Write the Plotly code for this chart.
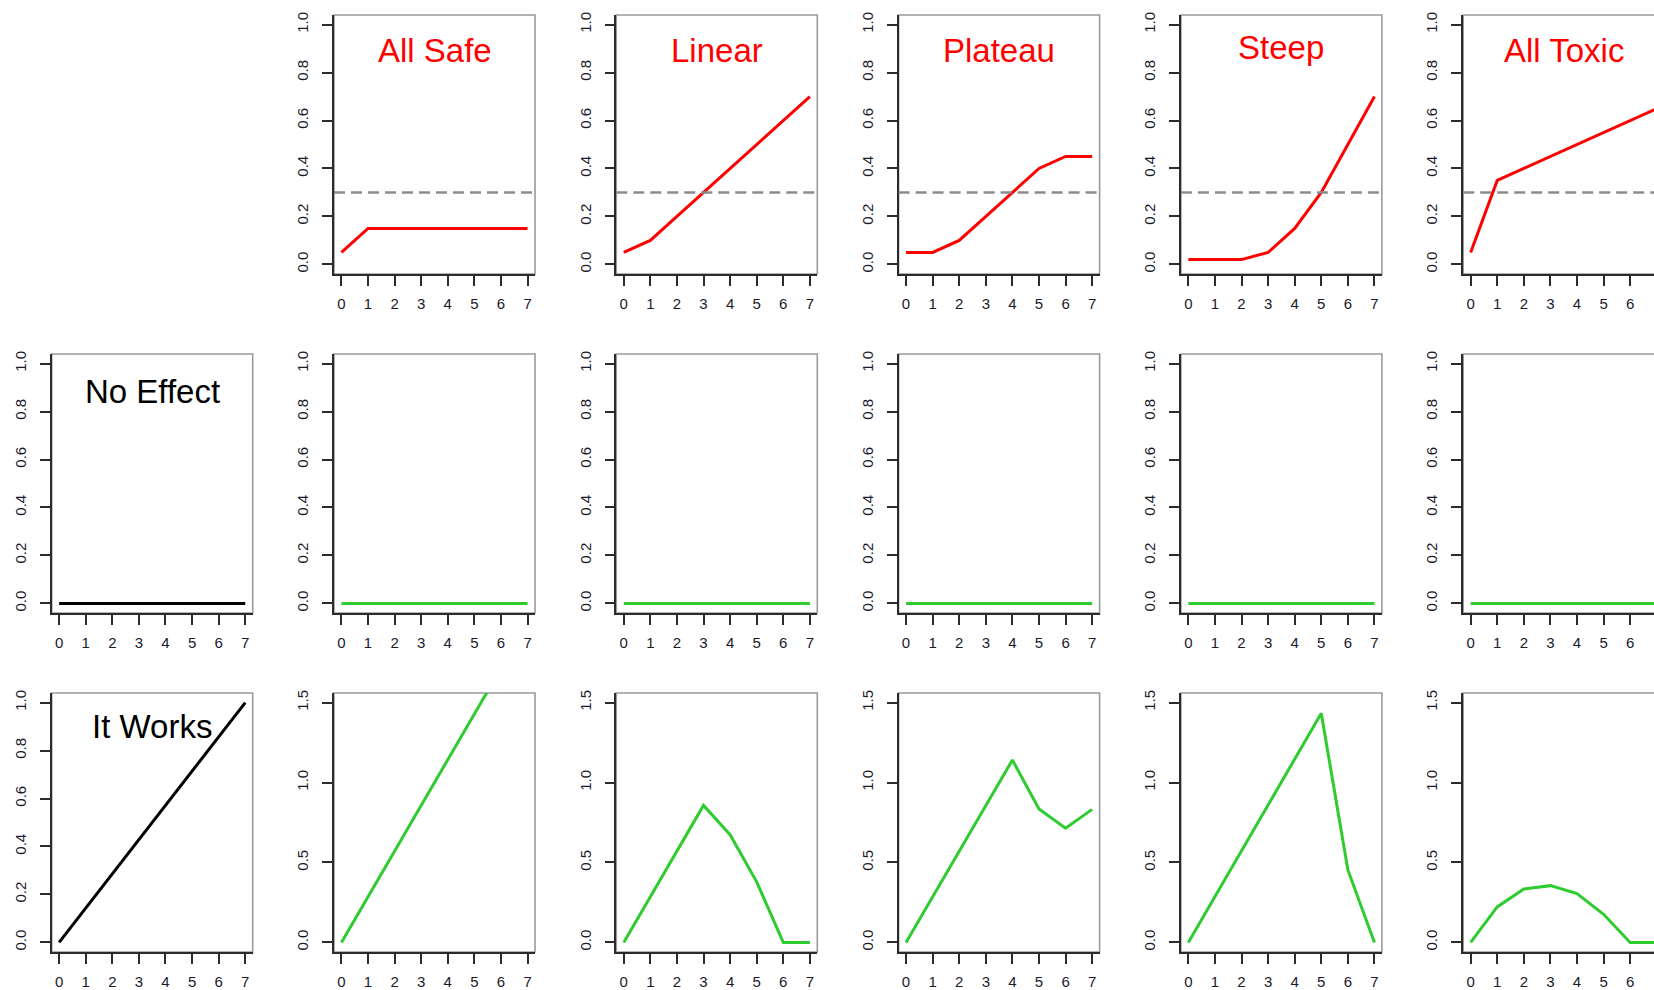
import plotly.graph_objects as go

# ---- data -------------------------------------------------------------
doses = [0, 1, 2, 3, 4, 5, 6, 7]

scenario_names = ["All Safe", "Linear", "Plateau", "Steep", "All Toxic"]

# toxicity curves (top row)
tox_all_safe = [0.05, 0.15, 0.15, 0.15, 0.15, 0.15, 0.15, 0.15]
tox_linear = [0.05, 0.10, 0.20, 0.30, 0.40, 0.50, 0.60, 0.70]
tox_plateau = [0.05, 0.05, 0.10, 0.20, 0.30, 0.40, 0.45, 0.45]
tox_steep = [0.02, 0.02, 0.02, 0.05, 0.15, 0.30, 0.50, 0.70]
tox_all_toxic = [0.05, 0.35, 0.40, 0.45, 0.50, 0.55, 0.60, 0.65]
toxicity_limit = 0.3

# efficacy curves (left column)
eff_no_effect = [0, 0, 0, 0, 0, 0, 0, 0]
eff_it_works = [0, 0.143, 0.286, 0.429, 0.571, 0.714, 0.857, 1.0]

# utility for each toxicity scenario under "No Effect"
util_no_effect = {
    "All Safe": [0, 0, 0, 0, 0, 0, 0, 0],
    "Linear": [0, 0, 0, 0, 0, 0, 0, 0],
    "Plateau": [0, 0, 0, 0, 0, 0, 0, 0],
    "Steep": [0, 0, 0, 0, 0, 0, 0, 0],
    "All Toxic": [0, 0, 0, 0, 0, 0, 0, 0],
}
# utility for each toxicity scenario under "It Works"
util_it_works = {
    "All Safe": [0, 0.286, 0.571, 0.857, 1.143, 1.429, 1.714, 2.0],
    "Linear": [0, 0.286, 0.571, 0.857, 0.674, 0.379, 0, 0],
    "Plateau": [0, 0.286, 0.571, 0.857, 1.141, 0.835, 0.714, 0.832],
    "Steep": [0, 0.286, 0.571, 0.857, 1.143, 1.433, 0.453, 0],
    "All Toxic": [0, 0.222, 0.334, 0.355, 0.306, 0.176, 0, 0],
}

tox_curves = [tox_all_safe, tox_linear, tox_plateau, tox_steep, tox_all_toxic]

# ---- layout geometry (pixels) -----------------------------------------
W, H = 1654, 990
COL_LEFT0, COL_PITCH, BOX_W = 51.7, 282.3, 201
ROW_TOPS = [15, 354, 693]
BOX_H = 259

FONT = "Liberation Sans, Arial, Helvetica, sans-serif"
RED = "#ff0000"
GREEN = "#2fcc2f"
BLACK = "#000000"

fig = go.Figure()
layout = {}
shapes = []
annotations = []
panel_no = [0]


def add_panel(row, col, y, color, ylim, yticks, title=None, title_color=None,
              title_y=None, hline=None):
    panel_no[0] += 1
    n = panel_no[0]
    sx = "" if n == 1 else str(n)
    left = COL_LEFT0 + COL_PITCH * col
    right = left + BOX_W
    top = ROW_TOPS[row]
    bottom = top + BOX_H

    pad_x = 0.04 * (doses[-1] - doses[0])
    full_range = [doses[0] - pad_x, doses[-1] + pad_x]
    x0_dom = left / W
    x1_dom = right / W
    xr = list(full_range)
    visible_w = BOX_W
    if x1_dom > 1:
        # panel runs off the right edge of the page: keep the same scale
        visible_w = W - left
        xr[1] = xr[0] + (full_range[1] - full_range[0]) * visible_w / BOX_W
        x1_dom = 1.0
    pad_y = 0.04 * (ylim[1] - ylim[0])

    axis_common = dict(
        showgrid=False, zeroline=False, showline=True, linecolor="#2b2b2b",
        linewidth=1.6, ticks="outside", ticklen=10, tickwidth=1.6,
        tickcolor="#2b2b2b", tickfont=dict(family=FONT, size=15, color="#1a1a2a"),
        fixedrange=True, automargin=False,
    )
    layout["xaxis" + sx] = dict(
        axis_common, domain=[x0_dom, x1_dom], range=xr, anchor="y" + sx,
        tickvals=doses, ticktext=[str(d) for d in doses],
        ticklabelstandoff=5,
    )
    layout["yaxis" + sx] = dict(
        axis_common,
        domain=[(H - bottom) / H, (H - top) / H],
        range=[ylim[0] - pad_y, ylim[1] + pad_y], anchor="x" + sx,
        tickvals=yticks, ticktext=["%.1f" % v for v in yticks],
        tickangle=-90, ticklabelstandoff=8,
    )

    # frame around the plotting region
    shapes.append(dict(
        type="rect", xref="x" + sx + " domain", yref="y" + sx + " domain",
        x0=0, x1=BOX_W / visible_w, y0=0, y1=1,
        line=dict(color="#9a9a9a", width=1.6), layer="below",
    ))
    if hline is not None:
        shapes.append(dict(
            type="line", xref="x" + sx + " domain", yref="y" + sx,
            x0=0, x1=BOX_W / visible_w, y0=hline, y1=hline,
            line=dict(color="#8c8c8c", width=2.4, dash="11px,6px"),
        ))

    fig.add_trace(go.Scatter(
        x=doses, y=y, mode="lines", xaxis="x" + sx, yaxis="y" + sx,
        line=dict(color=color, width=3), showlegend=False, hoverinfo="skip",
    ))

    if title:
        annotations.append(dict(
            text=title, xref="x" + sx, yref="y" + sx,
            x=(doses[0] + doses[-1]) / 2, y=title_y, showarrow=False,
            xanchor="center", yanchor="middle",
            font=dict(family=FONT, size=33, color=title_color),
        ))


tick_01 = [0.0, 0.2, 0.4, 0.6, 0.8, 1.0]
tick_15 = [0.0, 0.5, 1.0, 1.5]
title_heights = {"All Safe": 0.89, "Linear": 0.89, "Plateau": 0.89,
                 "Steep": 0.905, "All Toxic": 0.89}

# top row: toxicity scenarios
for i, name in enumerate(scenario_names):
    add_panel(0, i + 1, tox_curves[i], RED, (0, 1), tick_01, title=name,
              title_color=RED, title_y=title_heights[name],
              hline=toxicity_limit)

# middle row: no efficacy
add_panel(1, 0, eff_no_effect, BLACK, (0, 1), tick_01, title="No Effect",
          title_color=BLACK, title_y=0.885)
for i, name in enumerate(scenario_names):
    add_panel(1, i + 1, util_no_effect[name], GREEN, (0, 1), tick_01)

# bottom row: efficacy increasing with dose
add_panel(2, 0, eff_it_works, BLACK, (0, 1), tick_01, title="It Works",
          title_color=BLACK, title_y=0.90)
for i, name in enumerate(scenario_names):
    add_panel(2, i + 1, util_it_works[name], GREEN, (0, 1.5), tick_15)

fig.update_layout(
    width=W, height=H, margin=dict(l=0, r=0, t=0, b=0, autoexpand=False),
    paper_bgcolor="white", plot_bgcolor="white",
    shapes=shapes, annotations=annotations, **layout,
)

fig.write_html("out.html")
